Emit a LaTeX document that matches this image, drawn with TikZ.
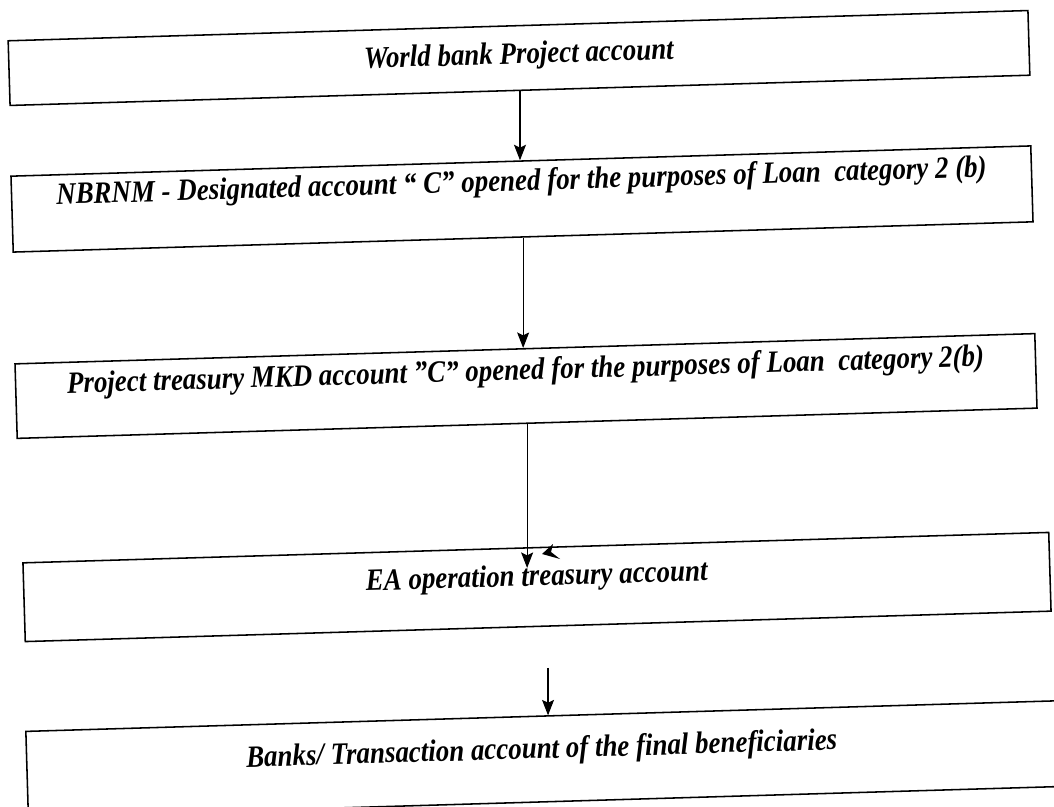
\documentclass[tikz,border=0pt]{standalone}
\usepackage{fontspec}
\setmainfont{Liberation Serif}[FakeStretch=0.87]
\usetikzlibrary{arrows.meta}

\tikzset{
  acct/.style={draw, line width=1.1pt, rotate=1.7, minimum width=25.5cm,
    inner xsep=0pt, inner ysep=0pt,
    font=\fontsize{22}{26}\selectfont\bfseries\itshape},
  flow/.style={->, line width=0.8pt},
}

\begin{document}
\begin{tikzpicture}[x=0.025cm, y=-0.025cm, >={Stealth[length=11pt,width=8.5pt,inset=2pt]}]
    \useasboundingbox[fill=white] (0,0) rectangle (1054,807);

    % Accounts, from top to bottom
    \node[acct, text height=27pt, text depth=19pt] (wb) at (519,58) {World bank Project account};
    \node[acct, text height=21pt, text depth=33pt] (nb) at (522,199) {NBRNM - Designated account “ C” opened for the purposes of Loan\ \ category 2 (b)};
    \node[acct, text height=22pt, text depth=31pt] (pt) at (526,386) {Project treasury MKD account ”C” opened for the purposes of Loan\ \ category 2(b)};
    \node[acct, minimum width=25.65cm, text height=27pt, text depth=29pt] (ea) at (537,587) {EA operation treasury account};
    \node[acct, minimum width=25.75cm, text height=30pt, text depth=31pt] (bk) at (542,759) {Banks/ Transaction account of the final beneficiaries};

    % Transfers
    \draw[flow] (wb.south) -- (wb.south |- nb.north);
    \draw[flow] (nb.south) -- (nb.south |- pt.north);
    \draw[flow] (pt.south) -- ([yshift=-15pt]pt.south |- ea.north);
    \draw[flow] ([xshift=7pt,yshift=-29pt]ea.south) -- ([xshift=7pt]ea.south |- bk.north);

    % stray tip on the EA box
    \fill (542,554) -- (553,544) -- (551,552) -- (560,559) -- cycle;
\end{tikzpicture}
\end{document}
